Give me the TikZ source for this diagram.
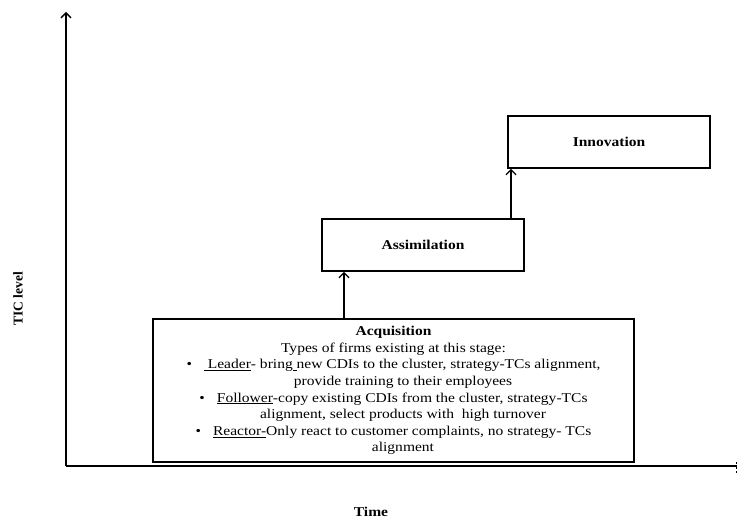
\documentclass[tikz,border=0pt]{standalone}
\usepackage{fontspec}
\setmainfont[FakeStretch=1.15]{Liberation Serif}
\newfontfamily\uprightserif{Liberation Serif}
\usetikzlibrary{arrows.meta}
\begin{document}
\begin{tikzpicture}[x=1pt,y=-1pt,
  stage/.style={draw, line width=1.8pt, inner sep=0pt,
    font=\fontsize{13.5}{16.6}\selectfont\bfseries},
  stagebox/.style={draw, line width=1.8pt, inner sep=0pt, align=center,
    font=\fontsize{13.5}{16.6}\selectfont},
  axisline/.style={line width=1.8pt},
  barb/.style={-{Straight Barb[length=5pt,width=10pt,line width=1.3pt]}},
  up/.style={line width=1.3pt, barb},
  axislabel/.style={font=\fontsize{13.5}{16}\selectfont\bfseries, inner sep=0pt},
]
\useasboundingbox (0,0) rectangle (737,521);

% axes
\coordinate (origin) at (66,466);
\coordinate (ytop) at (66,12);
\coordinate (xend) at (737,466);
\draw[axisline, line width=1.5pt, barb] (origin) -- (ytop);
\draw[axisline] (origin) -- (xend);
\coordinate (cutA) at (736,462);
\coordinate (cutB) at (736,474);
\draw[line width=1pt, dash pattern=on 2.5pt off 2pt] (cutA) -- (cutB);

\node[axislabel, font=\fontsize{13.5}{16}\selectfont\uprightserif\bfseries, rotate=90] (ylab) at (18,299) {TIC level};
\node[axislabel] (xlab) at (371,512) {Time};

% stages
\node[stage, minimum width=202pt, minimum height=52pt] (innov) at (609,142) {Innovation};
\node[stage, minimum width=202pt, minimum height=52pt] (assim) at (423,245) {Assimilation};
\node[stagebox, minimum width=481pt, minimum height=143pt] (acq) at (393.5,390.5) {%
  \textbf{Acquisition}\\
  Types of firms existing at this stage:\\
  \textbullet\hspace{12pt}\underline{\ Leader}- bring\underline{\ }new CDIs to the cluster, strategy-TCs alignment,\\
  \hspace*{19pt}provide training to their employees\\
  \textbullet\hspace{12pt}\underline{Follower}-copy existing CDIs from the cluster, strategy-TCs\\
  \hspace*{19pt}alignment, select products with\ \ high turnover\\
  \textbullet\hspace{12pt}\underline{Reactor-}Only react to customer complaints, no strategy- TCs\\
  \hspace*{19pt}alignment};

% transitions between stages
\coordinate (a1) at (344,0);
\coordinate (a2) at (511,0);
\draw[up] (acq.north -| a1) -- (assim.south -| a1);
\draw[up] (assim.north -| a2) -- (innov.south -| a2);
\end{tikzpicture}
\end{document}
